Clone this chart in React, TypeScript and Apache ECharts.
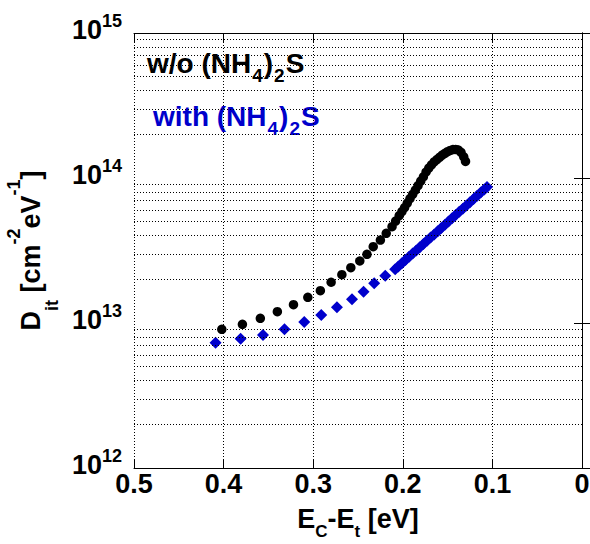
import React, { useEffect, useRef } from "react";
import * as echarts from "echarts";

const FONT = '"Liberation Sans", Arial, Helvetica, sans-serif';
const BLUE = "#0000cc";

// Series: E_C - E_t [eV] vs D_it [cm^-2 eV^-1]
const woX = [
  0.402, 0.379, 0.359, 0.340, 0.322, 0.306, 0.292, 0.280, 0.268, 0.258, 0.248, 0.240,
  0.233, 0.225, 0.2185, 0.212, 0.208, 0.204, 0.201, 0.198, 0.195, 0.192, 0.189, 0.186,
  0.183, 0.180, 0.177, 0.174, 0.171, 0.168, 0.165, 0.162, 0.159, 0.156, 0.153, 0.150,
  0.147, 0.144, 0.141, 0.138, 0.135, 0.132, 0.130,
];
const woY = [
  9.05e12, 9.8e12, 1.077e13, 1.197e13, 1.337e13, 1.503e13, 1.67e13, 1.91e13, 2.154e13,
  2.405e13, 2.677e13, 2.978e13, 3.358e13, 3.735e13, 4.155e13, 4.62e13, 5.05e13, 5.5e13,
  5.86e13, 6.25e13, 6.72e13, 7.2e13, 7.7e13, 8.25e13, 8.85e13, 9.5e13, 1.02e14, 1.1e14,
  1.17e14, 1.23e14, 1.29e14, 1.34e14, 1.39e14, 1.44e14, 1.48e14, 1.52e14, 1.55e14,
  1.57e14, 1.575e14, 1.56e14, 1.5e14, 1.4e14, 1.3e14,
];
const withX = [
  0.409, 0.381, 0.356, 0.332, 0.310, 0.291, 0.2735, 0.2567, 0.2438, 0.2319, 0.2196,
  0.2085, 0.205, 0.201, 0.197, 0.193, 0.189, 0.185, 0.181, 0.177, 0.173, 0.169, 0.165,
  0.161, 0.157, 0.153, 0.149, 0.145, 0.141, 0.137, 0.133, 0.129, 0.125, 0.121, 0.117,
  0.113, 0.109, 0.106,
];
const withY = [
  7.31e12, 7.8e12, 8.27e12, 9.05e12, 1.017e13, 1.136e13, 1.282e13, 1.456e13, 1.642e13,
  1.878e13, 2.12e13, 2.345e13, 2.45e13, 2.58e13, 2.72e13, 2.86e13, 3.01e13, 3.16e13,
  3.33e13, 3.51e13, 3.69e13, 3.88e13, 4.08e13, 4.3e13, 4.52e13, 4.76e13, 5.01e13,
  5.27e13, 5.55e13, 5.84e13, 6.14e13, 6.46e13, 6.8e13, 7.16e13, 7.53e13, 7.93e13,
  8.34e13, 8.67e13,
];

// Axis values
const xTicks = [0.5, 0.4, 0.3, 0.2, 0.1, 0];
const yMin = 1e12;
const yMax = 1e15;
const minorGrid = [
  2e12, 3e12, 4e12, 5e12, 6e12, 7e12, 8e12, 9e12,
  2e13, 3e13, 4e13, 5e13, 6e13, 7e13, 8e13, 9e13,
  2e14, 3e14, 4e14, 5e14, 6e14, 7e14, 8e14, 9e14,
];
const legendLabels = ["w/o", "with"];

const dotted = { type: [1, 2] as any, color: "#000", width: 1 };

export default function App() {
  const ref = useRef<HTMLDivElement>(null);
  useEffect(() => {
    if (!ref.current) return;
    const chart = echarts.init(ref.current, undefined, { renderer: "svg" });
    const main = { fontFamily: FONT, fontWeight: "bold", color: "#000" } as any;
    const gmain = { fontFamily: FONT, fontWeight: "bold" } as any;
    const option: any = {
      animation: false,
      backgroundColor: "#fff",
      grid: { left: 134, right: 8, top: 33, bottom: 76, outerBoundsMode: "none", containLabel: false },
      xAxis: [
        {
          type: "value",
          min: 0,
          max: 0.5,
          interval: 0.1,
          inverse: true,
          position: "bottom",
          axisLine: { lineStyle: { color: "#000", width: 1 } },
          axisTick: { inside: true, length: 9, lineStyle: { color: "#000" } },
          splitLine: { show: true, lineStyle: dotted },
          axisLabel: {
            margin: 2,
            fontSize: 27,
            lineHeight: 27,
            fontFamily: FONT,
            fontWeight: "bold",
            color: "#000",
            formatter: (v: number) => {
              const t = xTicks.find((k) => Math.abs(k - v) < 1e-9);
              return t === 0 ? "0" : (t ?? v).toFixed(1);
            },
          },
          name: "{m|E}{s|C}{m|-E}{s|t}{m| [eV]}",
          nameLocation: "middle",
          nameGap: 37,
          nameTextStyle: {
            rich: {
              m: { ...main, fontSize: 27, lineHeight: 28, verticalAlign: "top" },
              s: { ...main, fontSize: 17, lineHeight: 17, verticalAlign: "top", padding: [18, 0, 0, 0] },
            },
          },
        },
        {
          type: "value",
          min: 0,
          max: 0.5,
          interval: 0.1,
          inverse: true,
          position: "top",
          axisLine: { lineStyle: { color: "#000", width: 1 } },
          axisTick: { inside: true, length: 9, lineStyle: { color: "#000" } },
          splitLine: { show: false },
          axisLabel: { show: false },
        },
      ],
      yAxis: [
        {
          type: "log",
          logBase: 10,
          min: yMin,
          max: yMax,
          position: "left",
          axisLine: { show: true, lineStyle: { color: "#000", width: 1 } },
          axisTick: { show: true, inside: true, length: 8, lineStyle: { color: "#000" } },
          splitLine: { show: false },
          axisLabel: {
            margin: 12,
            padding: [0, 0, 15, 0],
            formatter: (v: number) => `{b|10}{s|${Math.round(Math.log10(v))}}`,
            rich: {
              b: { ...main, fontSize: 27, lineHeight: 28, verticalAlign: "top", padding: [5, 0, 0, 0] },
              s: { ...main, fontSize: 18, lineHeight: 18, verticalAlign: "top" },
            },
          },
          name: "{m|D}{sub|it}{m| [cm}{sup|-2}{m|eV}{sup|-1}{m|]}",
          nameLocation: "middle",
          nameRotate: 90,
          nameGap: 70,
          nameTextStyle: {
            rich: {
              m: { ...main, fontSize: 27, lineHeight: 28, verticalAlign: "top", padding: [12, 0, 0, 0] },
              sup: { ...main, fontSize: 18, lineHeight: 18, verticalAlign: "top" },
              sub: { ...main, fontSize: 18, lineHeight: 18, verticalAlign: "top", padding: [38, 0, 0, 0] },
            },
          },
        },
        {
          type: "log",
          logBase: 10,
          min: yMin,
          max: yMax,
          position: "right",
          axisLine: { show: true, lineStyle: { color: "#000", width: 1 } },
          axisTick: { show: true, inside: true, length: 8, lineStyle: { color: "#000" } },
          splitLine: { show: false },
          axisLabel: { show: false },
        },
      ],
      graphic: [
        {
          type: "text",
          left: 147,
          top: 49,
          style: {
            text: "{m|w/o (NH}{s|4}{m|)}{s|2}{m|S}",
            fill: "#000",
            rich: {
              m: { ...gmain, fill: "#000", fontSize: 28, lineHeight: 30, verticalAlign: "top" },
              s: { ...gmain, fill: "#000", fontSize: 19, lineHeight: 19, verticalAlign: "top", padding: [17, 1, 0, 1] },
            },
          },
        },
        {
          type: "text",
          left: 153,
          top: 102,
          style: {
            text: "{m|with (NH}{s|4}{m|)}{s|2}{m|S}",
            fill: BLUE,
            rich: {
              m: { ...gmain, fill: BLUE, fontSize: 28, lineHeight: 30, verticalAlign: "top" },
              s: { ...gmain, fill: BLUE, fontSize: 19, lineHeight: 19, verticalAlign: "top", padding: [17, 1, 0, 1] },
            },
          },
        },
      ],
      series: [
        {
          name: legendLabels[0],
          type: "scatter",
          xAxisIndex: 0,
          yAxisIndex: 0,
          symbol: "circle",
          symbolSize: 9.5,
          itemStyle: { color: "#000", opacity: 1 },
          data: woX.map((x, i) => [x, woY[i]]),
          z: 3,
          markLine: {
            silent: true,
            symbol: ["none", "none"],
            label: { show: false },
            lineStyle: dotted,
            emphasis: { disabled: true },
            data: minorGrid.map((v) => ({ yAxis: v })),
          },
        },
        {
          name: legendLabels[1],
          type: "scatter",
          xAxisIndex: 0,
          yAxisIndex: 0,
          symbol: "diamond",
          symbolSize: 12,
          itemStyle: { color: BLUE, opacity: 1 },
          data: withX.map((x, i) => [x, withY[i]]),
          z: 3,
        },
      ],
    };
    chart.setOption(option);
    return () => chart.dispose();
  }, []);
  return <div ref={ref} style={{ width: 590, height: 544, position: "absolute", left: 0, top: 0 }} />;
}
